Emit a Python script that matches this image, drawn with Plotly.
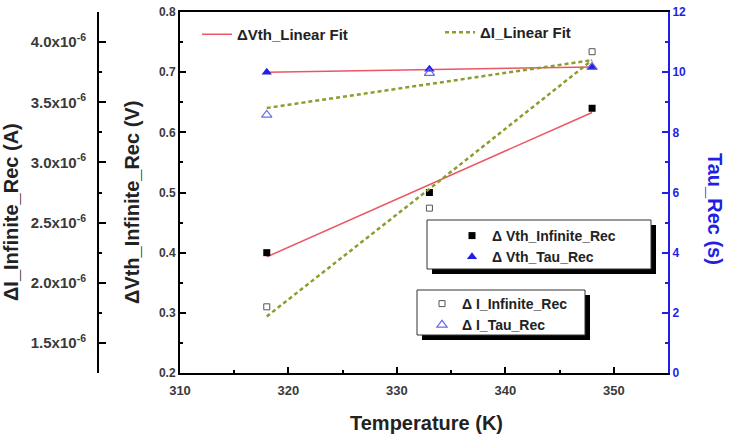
import plotly.graph_objects as go

# ---------------- data ----------------
temps = [318, 333, 348]
dvth_inf = [0.40, 0.50, 0.64]          # ΔVth_Infinite_Rec (V)
dvth_tau = [10.0, 10.1, 10.17]         # ΔVth_Tau_Rec (s)
di_inf = [1.80e-6, 2.62e-6, 3.92e-6]   # ΔI_Infinite_Rec (A)
di_tau = [8.58, 9.97, 10.17]           # ΔI_Tau_Rec (s)

vth_fit_inf = [0.393, 0.513, 0.633]
vth_fit_tau = [10.0, 10.08, 10.17]
di_fit_inf = [1.72e-6, 2.78e-6, 3.85e-6]
di_fit_tau = [8.81, 9.6, 10.40]

di_tickvals = [1.5e-6, 2.0e-6, 2.5e-6, 3.0e-6, 3.5e-6, 4.0e-6]
di_ticktext = ["1.5x10<sup>-6</sup>", "2.0x10<sup>-6</sup>", "2.5x10<sup>-6</sup>",
               "3.0x10<sup>-6</sup>", "3.5x10<sup>-6</sup>", "4.0x10<sup>-6</sup>"]

RED = "#ec5565"
GREEN = "#8d9c2e"
BLUE = "#1f1fe6"
LBLUE = "#6a6ae8"
FONT = "Liberation Sans"

# ---------------- layout geometry helpers ----------------
W, H = 731, 441
ML, MR, MT, MB = 60, 63, 12, 68
PW, PH = W - ML - MR, H - MT - MB


def px(x):
    return (x - ML) / PW


def py(y):
    return 1 - (y - MT) / PH


fig = go.Figure()

# fit lines
fig.add_trace(go.Scatter(x=temps, y=vth_fit_inf, mode="lines", name="ΔVth_Linear Fit",
                         line=dict(color=RED, width=1.5), legend="legend", yaxis="y"))
fig.add_trace(go.Scatter(x=temps, y=vth_fit_tau, mode="lines", showlegend=False,
                         line=dict(color=RED, width=1.5), yaxis="y2"))
fig.add_trace(go.Scatter(x=temps, y=di_fit_inf, mode="lines", name="ΔI_Linear Fit",
                         line=dict(color=GREEN, width=2.5, dash="4px,3px"), legend="legend2", yaxis="y3"))
fig.add_trace(go.Scatter(x=temps, y=di_fit_tau, mode="lines", showlegend=False,
                         line=dict(color=GREEN, width=2.5, dash="4px,3px"), yaxis="y2"))

# markers
fig.add_trace(go.Scatter(x=temps, y=dvth_inf, mode="markers", name="Δ Vth_Infinite_Rec",
                         marker=dict(symbol="square", size=7, color="black"),
                         legend="legend3", yaxis="y"))
fig.add_trace(go.Scatter(x=temps, y=dvth_tau, mode="markers", name="Δ Vth_Tau_Rec",
                         marker=dict(symbol="triangle-up", size=9, color=BLUE),
                         legend="legend3", yaxis="y2"))
fig.add_trace(go.Scatter(x=temps, y=di_inf, mode="markers", name="Δ I_Infinite_Rec",
                         marker=dict(symbol="square-open", size=6, color="#555555", line=dict(width=1)),
                         legend="legend4", yaxis="y3"))
fig.add_trace(go.Scatter(x=temps, y=di_tau, mode="markers", name="Δ I_Tau_Rec",
                         marker=dict(symbol="triangle-up-open", size=9, color=LBLUE, line=dict(width=1.2)),
                         legend="legend4", yaxis="y2"))

tickfont = dict(family=FONT, size=12, color="#3a3a3a", weight="bold")

fig.update_layout(
    width=W, height=H,
    margin=dict(l=ML, r=MR, t=MT, b=MB),
    paper_bgcolor="white", plot_bgcolor="white",
    font=dict(family=FONT, color="#222"),
    xaxis=dict(domain=[px(180), 1], range=[310, 355], tick0=310, dtick=10,
               ticks="inside", ticklen=6, tickwidth=1.5, tickcolor="black",
               minor=dict(dtick=5, ticks="inside", ticklen=3, tickcolor="black"),
               showline=True, linecolor="black", linewidth=2, mirror=True,
               showgrid=False, zeroline=False, ticklabelstandoff=4,
               tickfont=dict(family=FONT, size=13, color="#3a3a3a", weight="bold"),
               automargin=False),
    yaxis=dict(range=[0.2, 0.8], tick0=0.2, dtick=0.1, tickformat=".1f",
               ticks="inside", ticklen=6, tickwidth=1.5, tickcolor="black",
               minor=dict(dtick=0.05, ticks="inside", ticklen=3, tickcolor="black"),
               showline=True, linecolor="black", linewidth=2, mirror=False,
               showgrid=False, zeroline=False, tickfont=tickfont, automargin=False),
    yaxis2=dict(overlaying="y", side="right", anchor="x", range=[0, 12], tick0=0, dtick=2,
                ticks="inside", ticklen=6, tickwidth=1.5, tickcolor=BLUE,
                minor=dict(dtick=1, ticks="inside", ticklen=3, tickcolor=BLUE),
                showline=True, linecolor=BLUE, linewidth=2,
                showgrid=False, zeroline=False,
                tickfont=dict(family=FONT, size=12, color=BLUE, weight="bold"), automargin=False),
    yaxis3=dict(overlaying="y", side="left", anchor="free", position=px(98),
                range=[1.25e-6, 4.25e-6], tickmode="array", tickvals=di_tickvals, ticktext=di_ticktext,
                ticks="inside", ticklen=7, tickwidth=1.5, tickcolor="black",
                minor=dict(tick0=1.25e-6, dtick=0.25e-6, ticks="inside", ticklen=3, tickcolor="black"),
                showline=True, linecolor="black", linewidth=2,
                showgrid=False, zeroline=False, ticklabelstandoff=8,
                tickfont=dict(family=FONT, size=15, color="#3a3a3a", weight="bold"), automargin=False),
    legend=dict(x=px(197), y=py(18), xanchor="left", yanchor="top", bgcolor="rgba(0,0,0,0)",
                font=dict(family=FONT, size=15, color="#222", weight="bold")),
    legend2=dict(x=px(440), y=py(16), xanchor="left", yanchor="top", bgcolor="rgba(0,0,0,0)",
                 font=dict(family=FONT, size=15, color="#222", weight="bold")),
    legend3=dict(x=px(452), y=py(220), xanchor="left", yanchor="top", bgcolor="rgba(0,0,0,0)",
                 font=dict(family=FONT, size=14, color="#222", weight="bold"), tracegroupgap=0),
    legend4=dict(x=px(422), y=py(288), xanchor="left", yanchor="top", bgcolor="rgba(0,0,0,0)",
                 font=dict(family=FONT, size=14, color="#222", weight="bold"), tracegroupgap=0),
    showlegend=True,
)

# boxed legend frames with drop shadows
for (x0, y0, x1, y1) in [(427, 220, 651, 269), (417, 290, 585, 335)]:
    fig.add_shape(type="rect", xref="paper", yref="paper",
                  x0=px(x0 + 5), x1=px(x1 + 5), y0=py(y0 + 5), y1=py(y1 + 5),
                  fillcolor="black", line=dict(width=0), layer="above")
    fig.add_shape(type="rect", xref="paper", yref="paper",
                  x0=px(x0), x1=px(x1), y0=py(y0), y1=py(y1),
                  fillcolor="white", line=dict(color="#333", width=1), layer="above")

title_font = dict(family=FONT, size=20, color="#222", weight="bold")
fig.add_annotation(text="Temperature (K)", xref="paper", yref="paper", x=px(426), y=py(423),
                   showarrow=False, font=title_font, xanchor="center", yanchor="middle")
fig.add_annotation(text="ΔVth_Infinite_Rec (V)", xref="paper", yref="paper", x=px(132), y=py(203),
                   showarrow=False, font=title_font, textangle=-90, xanchor="center", yanchor="middle")
fig.add_annotation(text="ΔI_Infinite_Rec (A)", xref="paper", yref="paper", x=px(11), y=py(212),
                   showarrow=False, font=title_font, textangle=-90, xanchor="center", yanchor="middle")
fig.add_annotation(text="Tau_Rec (s)", xref="paper", yref="paper", x=px(715), y=py(209),
                   showarrow=False, font=dict(family=FONT, size=20, color=BLUE, weight="bold"),
                   textangle=90, xanchor="center", yanchor="middle")

fig.write_html("out.html")
